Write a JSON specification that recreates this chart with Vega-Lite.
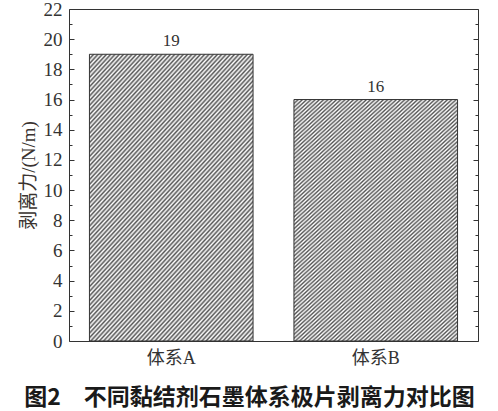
{
  "$schema": "https://vega.github.io/schema/vega-lite/v6.json",
  "width": 409,
  "height": 332,
  "autosize": {"type": "none"},
  "padding": {"left": 69, "top": 9, "right": 20, "bottom": 70},
  "background": "white",
  "data": {"values": [{"system": "体系A", "force": 19}, {"system": "体系B", "force": 16}]},
  "title": {"text": "图2　不同黏结剂石墨体系极片剥离力对比图", "orient": "bottom", "anchor": "middle", "font": "Noto Sans CJK SC", "fontSize": 23, "fontWeight": "bold", "color": "#1a1a1a", "offset": 20, "dx": -24},
  "config": {"view": {"stroke": "#333", "strokeWidth": 1}},
  "resolve": {"axis": {"y": "independent"}},
  "layer": [
    {
      "encoding": {
        "x": {"field": "system", "type": "nominal", "sort": null,
          "scale": {"paddingInner": 0.2, "paddingOuter": 0.1},
          "axis": {"title": null, "labelAngle": 0, "domain": false, "tickSize": -4, "tickColor": "#333", "labelFont": "Liberation Serif, Noto Sans CJK SC", "labelFontSize": 18, "labelColor": "#333", "labelPadding": 12}},
        "y": {"field": "force", "type": "quantitative", "scale": {"domain": [0, 22], "nice": false},
          "axis": {"orient": "left", "values": [0,1,2,3,4,5,6,7,8,9,10,11,12,13,14,15,16,17,18,19,20,21,22],
            "labelExpr": "datum.value % 2 === 0 ? datum.label : ''",
            "tickSize": {"condition": {"test": "datum.value % 2 === 0", "value": -5}, "value": -3},
            "tickColor": "#333", "domain": false, "grid": false,
            "labelFont": "Liberation Serif", "labelFontSize": 19, "labelColor": "#333", "labelPadding": 12,
            "title": "剥离力/(N/m)", "titleFont": "Liberation Serif, Noto Sans CJK SC", "titleFontSize": 19, "titleFontWeight": "normal", "titleColor": "#3a3330", "titlePadding": 5}}
      },
      "layer": [
        {
          "mark": {"type": "bar", "stroke": "#333", "strokeWidth": 1,
            "fill": {"gradient": "linear", "x1": 0, "y1": 0, "x2": 0.7266, "y2": 1.1698, "stops": [
{"offset":0,"color":"#555"},{"offset":0.005,"color":"#fff"},{"offset":0.01,"color":"#555"},{"offset":0.015,"color":"#fff"},{"offset":0.02,"color":"#555"},{"offset":0.025,"color":"#fff"},{"offset":0.03,"color":"#555"},{"offset":0.035,"color":"#fff"},{"offset":0.04,"color":"#555"},{"offset":0.045,"color":"#fff"},
{"offset":0.05,"color":"#555"},{"offset":0.055,"color":"#fff"},{"offset":0.06,"color":"#555"},{"offset":0.065,"color":"#fff"},{"offset":0.07,"color":"#555"},{"offset":0.075,"color":"#fff"},{"offset":0.08,"color":"#555"},{"offset":0.085,"color":"#fff"},{"offset":0.09,"color":"#555"},{"offset":0.095,"color":"#fff"},
{"offset":0.1,"color":"#555"},{"offset":0.105,"color":"#fff"},{"offset":0.11,"color":"#555"},{"offset":0.115,"color":"#fff"},{"offset":0.12,"color":"#555"},{"offset":0.125,"color":"#fff"},{"offset":0.13,"color":"#555"},{"offset":0.135,"color":"#fff"},{"offset":0.14,"color":"#555"},{"offset":0.145,"color":"#fff"},
{"offset":0.15,"color":"#555"},{"offset":0.155,"color":"#fff"},{"offset":0.16,"color":"#555"},{"offset":0.165,"color":"#fff"},{"offset":0.17,"color":"#555"},{"offset":0.175,"color":"#fff"},{"offset":0.18,"color":"#555"},{"offset":0.185,"color":"#fff"},{"offset":0.19,"color":"#555"},{"offset":0.195,"color":"#fff"},
{"offset":0.2,"color":"#555"},{"offset":0.205,"color":"#fff"},{"offset":0.21,"color":"#555"},{"offset":0.215,"color":"#fff"},{"offset":0.22,"color":"#555"},{"offset":0.225,"color":"#fff"},{"offset":0.23,"color":"#555"},{"offset":0.235,"color":"#fff"},{"offset":0.24,"color":"#555"},{"offset":0.245,"color":"#fff"},
{"offset":0.25,"color":"#555"},{"offset":0.255,"color":"#fff"},{"offset":0.26,"color":"#555"},{"offset":0.265,"color":"#fff"},{"offset":0.27,"color":"#555"},{"offset":0.275,"color":"#fff"},{"offset":0.28,"color":"#555"},{"offset":0.285,"color":"#fff"},{"offset":0.29,"color":"#555"},{"offset":0.295,"color":"#fff"},
{"offset":0.3,"color":"#555"},{"offset":0.305,"color":"#fff"},{"offset":0.31,"color":"#555"},{"offset":0.315,"color":"#fff"},{"offset":0.32,"color":"#555"},{"offset":0.325,"color":"#fff"},{"offset":0.33,"color":"#555"},{"offset":0.335,"color":"#fff"},{"offset":0.34,"color":"#555"},{"offset":0.345,"color":"#fff"},
{"offset":0.35,"color":"#555"},{"offset":0.355,"color":"#fff"},{"offset":0.36,"color":"#555"},{"offset":0.365,"color":"#fff"},{"offset":0.37,"color":"#555"},{"offset":0.375,"color":"#fff"},{"offset":0.38,"color":"#555"},{"offset":0.385,"color":"#fff"},{"offset":0.39,"color":"#555"},{"offset":0.395,"color":"#fff"},
{"offset":0.4,"color":"#555"},{"offset":0.405,"color":"#fff"},{"offset":0.41,"color":"#555"},{"offset":0.415,"color":"#fff"},{"offset":0.42,"color":"#555"},{"offset":0.425,"color":"#fff"},{"offset":0.43,"color":"#555"},{"offset":0.435,"color":"#fff"},{"offset":0.44,"color":"#555"},{"offset":0.445,"color":"#fff"},
{"offset":0.45,"color":"#555"},{"offset":0.455,"color":"#fff"},{"offset":0.46,"color":"#555"},{"offset":0.465,"color":"#fff"},{"offset":0.47,"color":"#555"},{"offset":0.475,"color":"#fff"},{"offset":0.48,"color":"#555"},{"offset":0.485,"color":"#fff"},{"offset":0.49,"color":"#555"},{"offset":0.495,"color":"#fff"},
{"offset":0.5,"color":"#555"},{"offset":0.505,"color":"#fff"},{"offset":0.51,"color":"#555"},{"offset":0.515,"color":"#fff"},{"offset":0.52,"color":"#555"},{"offset":0.525,"color":"#fff"},{"offset":0.53,"color":"#555"},{"offset":0.535,"color":"#fff"},{"offset":0.54,"color":"#555"},{"offset":0.545,"color":"#fff"},
{"offset":0.55,"color":"#555"},{"offset":0.555,"color":"#fff"},{"offset":0.56,"color":"#555"},{"offset":0.565,"color":"#fff"},{"offset":0.57,"color":"#555"},{"offset":0.575,"color":"#fff"},{"offset":0.58,"color":"#555"},{"offset":0.585,"color":"#fff"},{"offset":0.59,"color":"#555"},{"offset":0.595,"color":"#fff"},
{"offset":0.6,"color":"#555"},{"offset":0.605,"color":"#fff"},{"offset":0.61,"color":"#555"},{"offset":0.615,"color":"#fff"},{"offset":0.62,"color":"#555"},{"offset":0.625,"color":"#fff"},{"offset":0.63,"color":"#555"},{"offset":0.635,"color":"#fff"},{"offset":0.64,"color":"#555"},{"offset":0.645,"color":"#fff"},
{"offset":0.65,"color":"#555"},{"offset":0.655,"color":"#fff"},{"offset":0.66,"color":"#555"},{"offset":0.665,"color":"#fff"},{"offset":0.67,"color":"#555"},{"offset":0.675,"color":"#fff"},{"offset":0.68,"color":"#555"},{"offset":0.685,"color":"#fff"},{"offset":0.69,"color":"#555"},{"offset":0.695,"color":"#fff"},
{"offset":0.7,"color":"#555"},{"offset":0.705,"color":"#fff"},{"offset":0.71,"color":"#555"},{"offset":0.715,"color":"#fff"},{"offset":0.72,"color":"#555"},{"offset":0.725,"color":"#fff"},{"offset":0.73,"color":"#555"},{"offset":0.735,"color":"#fff"},{"offset":0.74,"color":"#555"},{"offset":0.745,"color":"#fff"},
{"offset":0.75,"color":"#555"},{"offset":0.755,"color":"#fff"},{"offset":0.76,"color":"#555"},{"offset":0.765,"color":"#fff"},{"offset":0.77,"color":"#555"},{"offset":0.775,"color":"#fff"},{"offset":0.78,"color":"#555"},{"offset":0.785,"color":"#fff"},{"offset":0.79,"color":"#555"},{"offset":0.795,"color":"#fff"},
{"offset":0.8,"color":"#555"},{"offset":0.805,"color":"#fff"},{"offset":0.81,"color":"#555"},{"offset":0.815,"color":"#fff"},{"offset":0.82,"color":"#555"},{"offset":0.825,"color":"#fff"},{"offset":0.83,"color":"#555"},{"offset":0.835,"color":"#fff"},{"offset":0.84,"color":"#555"},{"offset":0.845,"color":"#fff"},
{"offset":0.85,"color":"#555"},{"offset":0.855,"color":"#fff"},{"offset":0.86,"color":"#555"},{"offset":0.865,"color":"#fff"},{"offset":0.87,"color":"#555"},{"offset":0.875,"color":"#fff"},{"offset":0.88,"color":"#555"},{"offset":0.885,"color":"#fff"},{"offset":0.89,"color":"#555"},{"offset":0.895,"color":"#fff"},
{"offset":0.9,"color":"#555"},{"offset":0.905,"color":"#fff"},{"offset":0.91,"color":"#555"},{"offset":0.915,"color":"#fff"},{"offset":0.92,"color":"#555"},{"offset":0.925,"color":"#fff"},{"offset":0.93,"color":"#555"},{"offset":0.935,"color":"#fff"},{"offset":0.94,"color":"#555"},{"offset":0.945,"color":"#fff"},
{"offset":0.95,"color":"#555"},{"offset":0.955,"color":"#fff"},{"offset":0.96,"color":"#555"},{"offset":0.965,"color":"#fff"},{"offset":0.97,"color":"#555"},{"offset":0.975,"color":"#fff"},{"offset":0.98,"color":"#555"},{"offset":0.985,"color":"#fff"},{"offset":0.99,"color":"#555"},{"offset":0.995,"color":"#fff"},
{"offset":1,"color":"#555"}
            ]}}
        },
        {
          "mark": {"type": "text", "baseline": "alphabetic", "dy": -8, "font": "Liberation Serif", "fontSize": 17, "color": "#333"},
          "encoding": {"text": {"field": "force", "type": "quantitative"}}
        }
      ]
    },
    {
      "mark": {"type": "point", "opacity": 0},
      "encoding": {
        "y": {"field": "force", "type": "quantitative",
          "axis": {"orient": "right", "values": [0,1,2,3,4,5,6,7,8,9,10,11,12,13,14,15,16,17,18,19,20,21,22],
            "labels": false, "title": null, "domain": false, "grid": false, "tickColor": "#333",
            "tickSize": {"condition": {"test": "datum.value % 2 === 0", "value": -5}, "value": -3}}}
      }
    }
  ]
}
